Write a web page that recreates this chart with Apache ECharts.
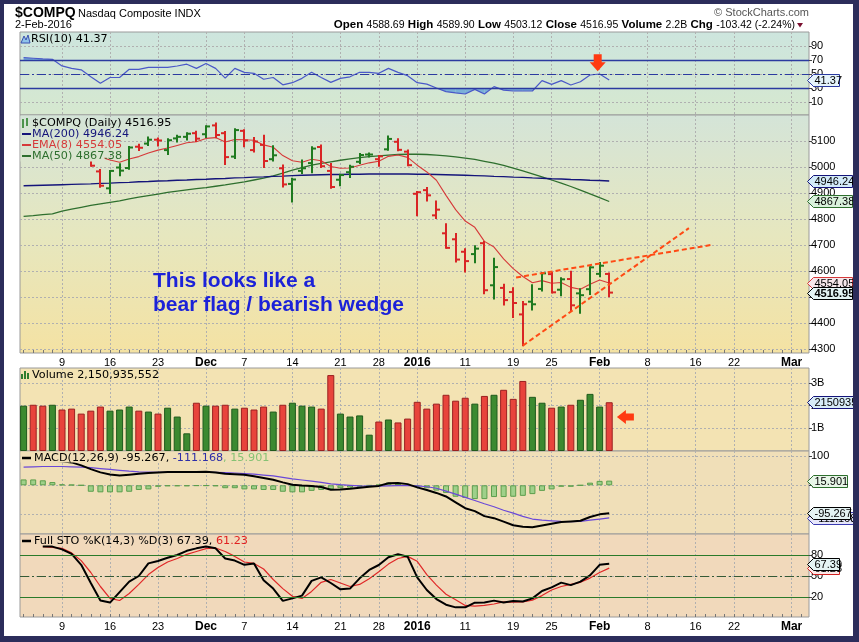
<!DOCTYPE html>
<html><head><meta charset="utf-8">
<script src="https://cdn.jsdelivr.net/npm/echarts@6/dist/echarts.min.js"></script>
<style>html,body{margin:0;padding:0;background:#fff}#c{width:859px;height:642px}</style>
</head><body><div id="c"></div>
<script>
// ---------------- DATA ----------------
const dates = ['Nov 3','Nov 4','Nov 5','Nov 6','Nov 9','Nov 10','Nov 11','Nov 12','Nov 13','Nov 16','Nov 17','Nov 18','Nov 19','Nov 20','Nov 23','Nov 24','Nov 25','Nov 27','Nov 30',
 'Dec 1','Dec 2','Dec 3','Dec 4','Dec 7','Dec 8','Dec 9','Dec 10','Dec 11','Dec 14','Dec 15','Dec 16','Dec 17','Dec 18','Dec 21','Dec 22','Dec 23','Dec 24','Dec 28','Dec 29','Dec 30','Dec 31',
 'Jan 4','Jan 5','Jan 6','Jan 7','Jan 8','Jan 11','Jan 12','Jan 13','Jan 14','Jan 15','Jan 19','Jan 20','Jan 21','Jan 22','Jan 25','Jan 26','Jan 27','Jan 28','Jan 29','Feb 1','Feb 2'];
const xTickIdx = [4,9,14,19,23,28,33,37,41,46,51,55,60,65,70,74,80];
const xTickLabels = ['9','16','23','Dec','7','14','21','28','2016','11','19','25','Feb','8','16','22','Mar'];
const xTickBold = ['Dec','2016','Feb','Mar'];

const openP = [null,null,null,null,null,null,null,5056,4983,4918,4998,4996,5078,5090,5105,5065,5110,5116,5130,5126,5160,5130,5040,5139,5065,5085,5030,4995,4935,4985,5015,5077,4985,4951,4980,5020,5048,5030,5068,5097,5059,4897,4911,4814,4745,4722,4674,4665,4707,4545,4535,4519,4433,4482,4531,4588,4528,4569,4514,4530,4589,4588.69];
const highP = [null,null,null,null,null,null,null,5062,4988,4985,5011,5077,5086,5113,5110,5107,5120,5130,5136,5157,5167,5135,5145,5141,5112,5120,5080,5006,4955,5025,5076,5083,5012,4970,5005,5050,5052,5042,5117,5107,5063,4904,4919,4867,4780,4742,4684,4695,4712,4647,4547,4534,4481,4545,4592,4592,4572,4597,4530,4614,4631,4589.90];
const lowP = [null,null,null,null,null,null,null,5005,4924,4900,4968,4993,5065,5085,5083,5050,5098,5106,5100,5115,5114,5012,5035,5080,5060,5000,5025,4925,4867,4977,4980,5000,4920,4930,4962,5015,5040,5005,5066,5064,5007,4814,4871,4804,4689,4637,4598,4634,4514,4494,4471,4423,4314,4452,4525,4517,4507,4450,4439,4512,4580,4503.12];
const closeP = [null,null,null,null,null,null,null,5005,4928,4985,4986,5075,5074,5105,5102,5103,5116,5128,5109,5156,5123,5038,5142,5102,5098,5023,5045,4933,4952,4995,5071,5003,4923,4969,5001,5046,5048,5041,5108,5066,5007,4903,4891,4836,4689,4644,4638,4686,4526,4615,4488,4477,4472,4472,4591,4518,4568,4468,4507,4614,4620.37,4516.95];
const dirs = ['u','d','d','u','d','d','d','d','d','u','u','u','d','u','d','u','u','u','d','u','d','d','u','d','d','d','u','d','u','u','u','d','d','u','u','u','u','d','u','d','d','d','d','d','d','d','d','u','d','u','d','d','d','u','u','d','u','d','u','u','u','d'];
const ma200 = [4928,4929,4930,4931,4932,4933,4934,4935,4937,4938,4940,4941,4943,4944,4946,4947,4949,4950,4952,4953,4955,4956,4958,4959,4961,4962,4964,4965,4967,4968,4969,4970,4971,4971,4972,4972,4973,4973,4973,4973,4973,4972,4972,4971,4970,4969,4968,4967,4966,4964,4963,4961,4960,4958,4957,4955,4954,4952,4951,4949,4948,4946.24];
const ma50 = [4810,4813,4817,4820,4830,4838,4845,4852,4858,4864,4870,4877,4884,4890,4896,4902,4907,4912,4917,4921,4926,4931,4937,4943,4950,4957,4966,4976,4988,4998,5007,5014,5020,5026,5031,5036,5040,5043,5046,5048,5049,5049,5048,5046,5043,5039,5034,5029,5022,5015,5006,4996,4985,4974,4962,4950,4938,4925,4911,4897,4882,4867.38];
const ema8 = [null,null,null,null,null,null,null,null,5039,5027,5018,5031,5040,5054,5065,5073,5083,5093,5097,5110,5113,5096,5106,5105,5103,5085,5076,5044,5024,5018,5030,5024,5002,4995,4996,5007,5016,5022,5041,5046,5037,5007,4981,4949,4891,4836,4792,4768,4714,4692,4647,4609,4579,4555,4563,4553,4556,4537,4530,4549,4565,4554.05];
const volume = [2.00,2.04,2.00,2.04,1.83,1.87,1.65,1.78,1.96,1.78,1.83,1.96,1.78,1.74,1.65,1.91,1.52,0.78,2.13,2.00,2.00,2.04,1.87,1.91,1.83,1.96,1.74,2.04,2.13,2.00,1.96,1.87,3.35,1.65,1.52,1.57,0.72,1.30,1.39,1.26,1.43,2.17,1.87,2.09,2.48,2.22,2.35,2.09,2.43,2.48,2.70,2.30,3.09,2.39,2.13,1.91,1.96,2.04,2.26,2.52,1.96,2.150935552];
const rsi = [73.5,72.5,71.5,71,61.5,58,56,46,36.7,45,45,56.7,56.7,59.5,59.5,59.5,61.4,64,58,65,58,44,58,52.4,51,42.5,45,34.5,37.6,43.8,52.4,45,38,43.8,46,52.4,52.4,51,58,52.4,47.6,37.6,35.5,30,24.8,23,21.4,28,21.4,32,27,25.7,25.7,25.7,40.5,35.2,40.5,34.3,39,48.6,50,41.37];
const macd = [84,85,85,84,82,78,68,55,44,37,33,36,39,42,44,45,45,45,45,46,44,39,38,36,31,25,19,10,2,-1,-2,-6,-15,-14,-12,-8,-5,-2,7,8,4,-7,-16,-26,-38,-58,-78,-88,-105,-112,-124,-136,-141,-143,-137,-131,-125,-123,-121,-108,-99,-95.267];
const signal = [62,63,64,64,64,63,62,60,57,54,51,48,46,45,44,44,44,44,44,44,44,43,42,40,38,35,32,27,22,18,14,10,5,2,0,-2,-3,-3,-2,-1,-1,-2,-5,-10,-20,-30,-41,-52,-63,-73,-85,-95,-106,-115,-119,-121,-123,-124,-123,-119,-115,-111.168];
const hist = [20,20,17,11,3,2,0,-22,-24,-24,-24,-22,-16,-14,-5,-3,-3,-3,-2,-2,-3,-10,-10,-14,-14,-16,-16,-22,-24,-24,-19,-16,-14,-10,-8,-5,-1,2,9,7,-1,-5,-10,-18,-26,-39,-43,-47,-47,-40,-40,-39,-36,-30,-19,-14,-5,-5,0,9,15,15.901];
const stoK = [null,null,92,92,88,81.5,66,40,15,12,27,42,50,68,71.5,76,80,86,89.5,92,89.5,75,72,66,68,44,32,14.5,18,22,43,48,40,31,32,46.7,58.6,65.7,76.7,81,77.6,48,30,17,9,5.2,5.2,11.9,12,14.8,12,14.3,13.5,18,28.6,33.8,40.5,37,42,51,66,67.39];
const stoD = [null,null,92,91,89.5,83,72,55,35,18,15,25,38,52,62,70,75,81,85,89,90,85,78,70,68,60,45,32,21,18,28,41,45,40,35,38,46,56,67,75,78,71,52,37,24,16,8,7,8,10,13,12.5,13,15.5,22,30,35,38,41,47,55,61.23];
const wedgeUpper = [[51.3, 4575], [71.6, 4700]];
const wedgeLower = [[52.0, 4313], [69.3, 4765]];
const rsiArrowAt = [59.8, 54];
const volArrowAt = [61.8, 1.5];

// ---------------- STYLE / LAYOUT ----------------
const N = dates.length;
const XMIN = -0.375, XMAX = 81.81;
const dayTicks = [];
for (let i = 0; i <= 81; i++) dayTicks.push(i);
const FONT = '"Liberation Sans", Arial, sans-serif';
const LFONT = '"DejaVu Sans", Verdana, sans-serif';
const LSIZE = 11.2;
const BAR_G = '#1f7a1f', BAR_R = '#d92525';
const GRID_LINE = {color:'#b0b0b0', type:[2,2], width:1};
const grids = [
  {left:20, top:32, width:789, height:83},
  {left:20, top:115, width:789, height:238},
  {left:20, top:368, width:789, height:83},
  {left:20, top:451, width:789, height:83},
  {left:20, top:534, width:789, height:83}
];
const priceStops = [{offset:0,color:'#d4e4d8'},{offset:0.5,color:'#e6e7bf'},{offset:1,color:'#f4e2a3'}];
const bgs = [
  {type:'linear',x:0,y:0,x2:0,y2:1,colorStops:[{offset:0,color:'#cde5de'},{offset:1,color:'#d6e8cf'}]},
  {type:'linear',x:0,y:0,x2:0,y2:1,colorStops:priceStops},
  '#f3e3b3','#f0dfb8','#f1d9bb'
];
const yRanges = [[-8.571,110],[4284.6,5200],[0,3.662],[-166,116.9],[-8.571,110]];
const yTicks = [[10,30,50,70,90],[4300,4400,4500,4600,4700,4800,4900,5000,5100],[1,2,3],[-100,0,100],[20,50,80]];

const pairs = arr => arr.map((v,i)=>[i,v]);

function xFmt(v){
  const k = xTickIdx.indexOf(Math.round(v));
  if (k < 0) return '';
  const t = xTickLabels[k];
  return xTickBold.includes(t) ? '{b|'+t+'}' : t;
}

function tagSeries(xi, tags){
  return {
    type:'custom', xAxisIndex:xi, yAxisIndex:xi, clip:false, z:20, silent:true,
    data: tags.map(t=>[XMAX, t.value]),
    renderItem(params, api){
      const t = tags[params.dataIndex];
      const p = api.coord([api.value(0), api.value(1)]);
      const x = p[0]-1.5, y = Math.round(p[1])+0.5, h = 6, w = t.w;
      return {type:'group', children:[
        {type:'polygon', shape:{points:[[x,y],[x+6,y-h],[x+w,y-h],[x+w,y+h],[x+6,y+h]]}, style:{fill:t.fill, stroke:t.stroke, lineWidth:1}},
        {type:'text', style:{text:t.text, x:x+7, y:y+0.5, align:'left', verticalAlign:'middle', fill:'#000', fontFamily:FONT, fontSize:11, fontWeight:t.bold?'bold':'normal'}}
      ]};
    }
  };
}

function rsiFill(){
  return {
    type:'custom', xAxisIndex:0, yAxisIndex:0, z:1, silent:true,
    data: pairs(rsi),
    renderItem(params, api){
      const i = params.dataIndex;
      if (i >= N-1) return {type:'group', children:[]};
      const v1 = rsi[i], v2 = rsi[i+1];
      const kids = [];
      [[30,true],[70,false]].forEach(([t,below])=>{
        const in1 = below ? v1 < t : v1 > t, in2 = below ? v2 < t : v2 > t;
        if (!in1 && !in2) return;
        let pts;
        if (in1 && in2) pts = [[i,v1],[i+1,v2],[i+1,t],[i,t]];
        else {
          const xc = i + (t-v1)/(v2-v1);
          pts = in1 ? [[i,v1],[xc,t],[i,t]] : [[xc,t],[i+1,v2],[i+1,t]];
        }
        kids.push({type:'polygon', shape:{points:pts.map(q=>api.coord(q))}, style:{fill:'#6aa6d8', opacity:0.85}});
      });
      return {type:'group', children:kids};
    }
  };
}

function arrowSeries(xi, at, dir){
  return {
    type:'custom', xAxisIndex:xi, yAxisIndex:xi, clip:false, z:30, silent:true,
    data:[at],
    renderItem(params, api){
      const p = api.coord([api.value(0), api.value(1)]);
      const x = p[0], y = p[1];
      const pts = dir==='down'
        ? [[x,y],[x-8,y-9],[x-4,y-9],[x-4,y-17],[x+4,y-17],[x+4,y-9],[x+8,y-9]]
        : [[x,y],[x+9,y-7],[x+9,y-3.5],[x+17,y-3.5],[x+17,y+3.5],[x+9,y+3.5],[x+9,y+7]];
      return {type:'polygon', shape:{points:pts}, style:{fill:'#ff3a12'}};
    }
  };
}

const lineS = (xi, data, color, width, z) => ({type:'line', xAxisIndex:xi, yAxisIndex:xi, data:pairs(data), symbol:'none', silent:true, z:z||3, lineStyle:{color, width}, connectNulls:false});

const series = [
  rsiFill(),
  Object.assign(lineS(0, rsi, '#4a58c8', 1.2), {markLine:{silent:true, symbol:'none', label:{show:false}, data:[
    {yAxis:70, lineStyle:{color:'#2b3aa0', width:1.3, type:'solid'}},
    {yAxis:30, lineStyle:{color:'#2b3aa0', width:1.3, type:'solid'}},
    {yAxis:50, lineStyle:{color:'#2b3aa0', width:1.2, type:[9,3,2,3]}}]}}),
  tagSeries(0, [{value:rsi[N-1], text:String(rsi[N-1]), w:32, fill:'#e6f4fb', stroke:'#2b3aa0'}]),
  arrowSeries(0, rsiArrowAt, 'down'),

  lineS(1, ma50, '#2e6f2e', 1.3),
  lineS(1, ma200, '#14147a', 1.4),
  lineS(1, ema8, '#d63a3a', 1.1),
  {type:'custom', xAxisIndex:1, yAxisIndex:1, z:5, silent:true,
   data: closeP.map((c,i)=>c==null?null:[i, openP[i], highP[i], lowP[i], c]).filter(d=>d),
   renderItem(params, api){
     const i = api.value(0);
     const ph = api.coord([i, api.value(2)]), pl = api.coord([i, api.value(3)]);
     const yo = api.coord([i, api.value(1)])[1], yc = api.coord([i, api.value(4)])[1];
     const x = Math.round(ph[0]);
     const st = {stroke: dirs[i]==='u'?BAR_G:BAR_R, lineWidth:2};
     return {type:'group', children:[
       {type:'line', shape:{x1:x, y1:ph[1]-1, x2:x, y2:pl[1]+1}, style:st},
       {type:'line', shape:{x1:x-4, y1:yo, x2:x, y2:yo}, style:st},
       {type:'line', shape:{x1:x, y1:yc, x2:x+4, y2:yc}, style:st}]};
   }},
  {type:'line', xAxisIndex:1, yAxisIndex:1, data:wedgeUpper, symbol:'none', silent:true, z:6, lineStyle:{color:'#ff4a14', width:2, type:[5,3]}},
  {type:'line', xAxisIndex:1, yAxisIndex:1, data:wedgeLower, symbol:'none', silent:true, z:6, lineStyle:{color:'#ff4a14', width:2, type:[5,3]}},
  tagSeries(1, [
    {value:ma200[N-1], text:ma200[N-1].toFixed(2), w:45, fill:'#d2eaf8', stroke:'#14147a'},
    {value:ma50[N-1], text:ma50[N-1].toFixed(2), w:45, fill:'#d9f1dc', stroke:'#2e6f2e'},
    {value:ema8[N-1], text:ema8[N-1].toFixed(2), w:45, fill:'#f6e6ea', stroke:'#d63a3a'},
    {value:closeP[N-1], text:closeP[N-1].toFixed(2), w:45, fill:'#e4f3f3', stroke:'#000', bold:true}
  ]),

  {type:'bar', xAxisIndex:2, yAxisIndex:2, barWidth:7, silent:true, z:3,
   data: volume.map((v,i)=>({value:[i,v], itemStyle:{color: dirs[i]==='u'?'#3c8a30':'#e8443c', borderColor: dirs[i]==='u'?'#1f5a1c':'#9a2020', borderWidth:1}}))},
  tagSeries(2, [{value:volume[N-1], text:String(Math.round(volume[N-1]*1e9)), w:60, fill:'#d8ecf8', stroke:'#14147a'}]),
  arrowSeries(2, volArrowAt, 'left'),

  {type:'bar', xAxisIndex:3, yAxisIndex:3, barWidth:6, silent:true, z:2,
   data: pairs(hist), itemStyle:{color:'#9fd08a', borderColor:'#5c9e4c', borderWidth:1}},
  lineS(3, signal, '#6a48d8', 1.2),
  lineS(3, macd, '#000', 2),
  tagSeries(3, [
    {value:hist[N-1], text:hist[N-1].toFixed(3), w:40, fill:'#e8f6e8', stroke:'#2e6f2e'},
    {value:signal[N-1], text:signal[N-1].toFixed(3), w:46, fill:'#e6e6fa', stroke:'#3a3ab0'},
    {value:macd[N-1], text:macd[N-1].toFixed(3), w:43, fill:'#e4f3f3', stroke:'#000'}
  ]),

  Object.assign(lineS(4, stoD, '#e02828', 1.2), {markLine:{silent:true, symbol:'none', label:{show:false}, data:[
    {yAxis:80, lineStyle:{color:'#2a7a2a', width:1.2, type:'solid'}},
    {yAxis:20, lineStyle:{color:'#2a7a2a', width:1.2, type:'solid'}},
    {yAxis:50, lineStyle:{color:'#355a35', width:1.2, type:[9,3,2,3]}}]}}),
  lineS(4, stoK, '#000', 2),
  tagSeries(4, [
    {value:stoD[N-1], text:stoD[N-1].toFixed(2), w:32, fill:'#fbe8e8', stroke:'#d02020'},
    {value:stoK[N-1], text:stoK[N-1].toFixed(2), w:32, fill:'#e4f3f3', stroke:'#000'}
  ])
];

const xAxis = grids.map((g,k)=>({
  type:'value', gridIndex:k, min:XMIN, max:XMAX,
  axisLine:{show:false, onZero:false},
  axisTick:{show:false, customValues:xTickIdx},
  axisLabel:{show:k===1||k===4, customValues:xTickIdx, formatter:xFmt, margin:4, fontSize:11, color:'#000', fontFamily:FONT,
    rich:{b:{fontWeight:'bold', fontSize:12, fontFamily:FONT, color:'#000'}}},
  splitLine:{show:true, lineStyle:GRID_LINE}
}));
// day ruler ticks along bottom edge of price and STO panels
[1,4].forEach(k=>xAxis.push({
  type:'value', gridIndex:k, min:XMIN, max:XMAX, position:'bottom',
  axisLine:{show:false, onZero:false},
  axisTick:{show:true, inside:true, length:3, customValues:dayTicks, lineStyle:{color:'#777'}},
  axisLabel:{show:false}, splitLine:{show:false}
}));
const yAxis = grids.map((g,k)=>({
  type:'value', gridIndex:k, position:'right', min:yRanges[k][0], max:yRanges[k][1],
  axisLine:{show:false, onZero:false},
  axisTick:{show:true, length:3, customValues:yTicks[k], lineStyle:{color:'#444'}},
  axisLabel:{customValues:yTicks[k], margin:2, fontSize:11, color:'#000', fontFamily:FONT,
    formatter: k===2 ? (v=>v+'B') : (v=>String(v))},
  splitLine:{show:true, lineStyle:GRID_LINE}
}));

const last = N-1;
const chg = closeP[last]-closeP[last-1];
const headerText = '{l|Open} {v|'+openP[last].toFixed(2)+'} {l|High} {v|'+highP[last].toFixed(2)+'} {l|Low} {v|'+lowP[last].toFixed(2)+
  '} {l|Close} {v|'+closeP[last].toFixed(2)+'} {l|Volume} {v|'+volume[last].toFixed(1)+'B} {l|Chg} {v|'+chg.toFixed(2)+' ('+(chg/closeP[last-1]*100).toFixed(2)+'%)}';

const priceGlobalGrad = {type:'linear', x:0, y:115, x2:0, y2:353, global:true, colorStops:priceStops};
const T = (x,y,text,extra) => Object.assign({type:'text', z:60, style:Object.assign({x, y, text, fill:'#000', fontFamily:LFONT, fontSize:LSIZE, verticalAlign:'middle'}, extra||{})});
const graphic = [
  // frame
  {type:'rect', z:100, shape:{x:0,y:0,width:859,height:4}, style:{fill:'#2c2d5b'}},
  {type:'rect', z:100, shape:{x:0,y:0,width:4,height:642}, style:{fill:'#2c2d5b'}},
  {type:'rect', z:100, shape:{x:853,y:0,width:6,height:642}, style:{fill:'#2c2d5b'}},
  {type:'rect', z:100, shape:{x:0,y:636,width:859,height:6}, style:{fill:'#2c2d5b'}},
  // header
  T(15, 13, '$COMPQ', {fontFamily:FONT, fontSize:14, fontWeight:'bold'}),
  T(78, 14, 'Nasdaq Composite INDX', {fontFamily:FONT, fontSize:11}),
  T(15, 25, '2-Feb-2016', {fontFamily:FONT, fontSize:11}),
  T(809, 13, '\u00A9 StockCharts.com', {fontFamily:FONT, fontSize:11, fill:'#555', align:'right'}),
  {type:'text', z:60, style:{x:795, y:25, text:headerText, align:'right', verticalAlign:'middle',
    rich:{l:{fontFamily:FONT, fontSize:11.5, fontWeight:'bold', fill:'#000'}, v:{fontFamily:FONT, fontSize:10.5, fill:'#000'}}}},
  {type:'polygon', z:60, shape:{points:[[797,23],[803,23],[800,27.5]]}, style:{fill:'#7a1030'}},
  // RSI legend
  {type:'polygon', z:60, shape:{points:[[21,43],[24,36],[26,40],[28,35],[30,43]]}, style:{fill:'#8fc3ea', stroke:'#3a50b0', lineWidth:1}},
  T(31, 39.5, 'RSI(10) '+rsi[last]),
  // price legend
  {type:'rect', z:55, shape:{x:20.5,y:115.5,width:84,height:46}, style:{fill:priceGlobalGrad}},
  {type:'line', z:60, shape:{x1:23,y1:119,x2:23,y2:128}, style:{stroke:BAR_G, lineWidth:1.5}},
  {type:'line', z:60, shape:{x1:27,y1:118,x2:27,y2:126}, style:{stroke:BAR_G, lineWidth:1.5}},
  T(32, 123, '$COMPQ (Daily) '+closeP[last].toFixed(2)),
  {type:'line', z:60, shape:{x1:22,y1:134,x2:31,y2:134}, style:{stroke:'#14147a', lineWidth:2}},
  T(32, 134, 'MA(200) '+ma200[last].toFixed(2), {fill:'#14147a'}),
  {type:'line', z:60, shape:{x1:22,y1:145,x2:31,y2:145}, style:{stroke:'#d63a3a', lineWidth:2}},
  T(32, 145, 'EMA(8) '+ema8[last].toFixed(2), {fill:'#d63a3a'}),
  {type:'line', z:60, shape:{x1:22,y1:156,x2:31,y2:156}, style:{stroke:'#2e6f2e', lineWidth:2}},
  T(32, 156, 'MA(50) '+ma50[last].toFixed(2), {fill:'#2e6f2e'}),
  // annotation text
  T(153, 281, 'This looks like a', {fontFamily:FONT, fontSize:21, fontWeight:'bold', fill:'#1c22d8'}),
  T(153, 305, 'bear flag / bearish wedge', {fontFamily:FONT, fontSize:21, fontWeight:'bold', fill:'#1c22d8'}),
  // volume legend
  {type:'rect', z:60, shape:{x:21,y:374,width:2,height:5}, style:{fill:'#2e7d2e'}},
  {type:'rect', z:60, shape:{x:24,y:371,width:2,height:8}, style:{fill:'#2e7d2e'}},
  {type:'rect', z:60, shape:{x:27,y:373,width:2,height:6}, style:{fill:'#2e7d2e'}},
  T(32, 375, 'Volume '+Math.round(volume[last]*1e9).toLocaleString('en-US')),
  // MACD legend
  {type:'rect', z:55, shape:{x:20.5,y:451.5,width:256,height:11}, style:{fill:'#f0dfb8'}},
  {type:'line', z:60, shape:{x1:22,y1:458,x2:31,y2:458}, style:{stroke:'#000', lineWidth:2.5}},
  {type:'text', z:60, style:{x:34, y:458, verticalAlign:'middle',
    text:'{k|MACD(12,26,9) '+macd[last].toFixed(3)+', }{s|'+signal[last].toFixed(3)+'}{h|, '+hist[last].toFixed(3)+'}',
    rich:{k:{fontFamily:LFONT,fontSize:LSIZE,fill:'#000'}, s:{fontFamily:LFONT,fontSize:LSIZE,fill:'#2d2da8'}, h:{fontFamily:LFONT,fontSize:LSIZE,fill:'#86c274'}}}},
  // STO legend
  {type:'line', z:60, shape:{x1:22,y1:541,x2:31,y2:541}, style:{stroke:'#000', lineWidth:2.5}},
  {type:'text', z:60, style:{x:34, y:541, verticalAlign:'middle',
    text:'{k|Full STO %K(14,3) %D(3) '+stoK[last].toFixed(2)+', }{d|'+stoD[last].toFixed(2)+'}',
    rich:{k:{fontFamily:LFONT,fontSize:LSIZE,fill:'#000'}, d:{fontFamily:LFONT,fontSize:LSIZE,fill:'#e02020'}}}}
];

const chart = echarts.init(document.getElementById('c'), null, {renderer:'canvas'});
chart.setOption({
  animation:false,
  backgroundColor:'#ffffff',
  grid: grids.map((g,k)=>Object.assign({show:true, backgroundColor:bgs[k], borderColor:'#9a9a9a', borderWidth:1, containLabel:false, outerBoundsMode:'none'}, g)),
  xAxis, yAxis, series, graphic
});
</script></body></html>
